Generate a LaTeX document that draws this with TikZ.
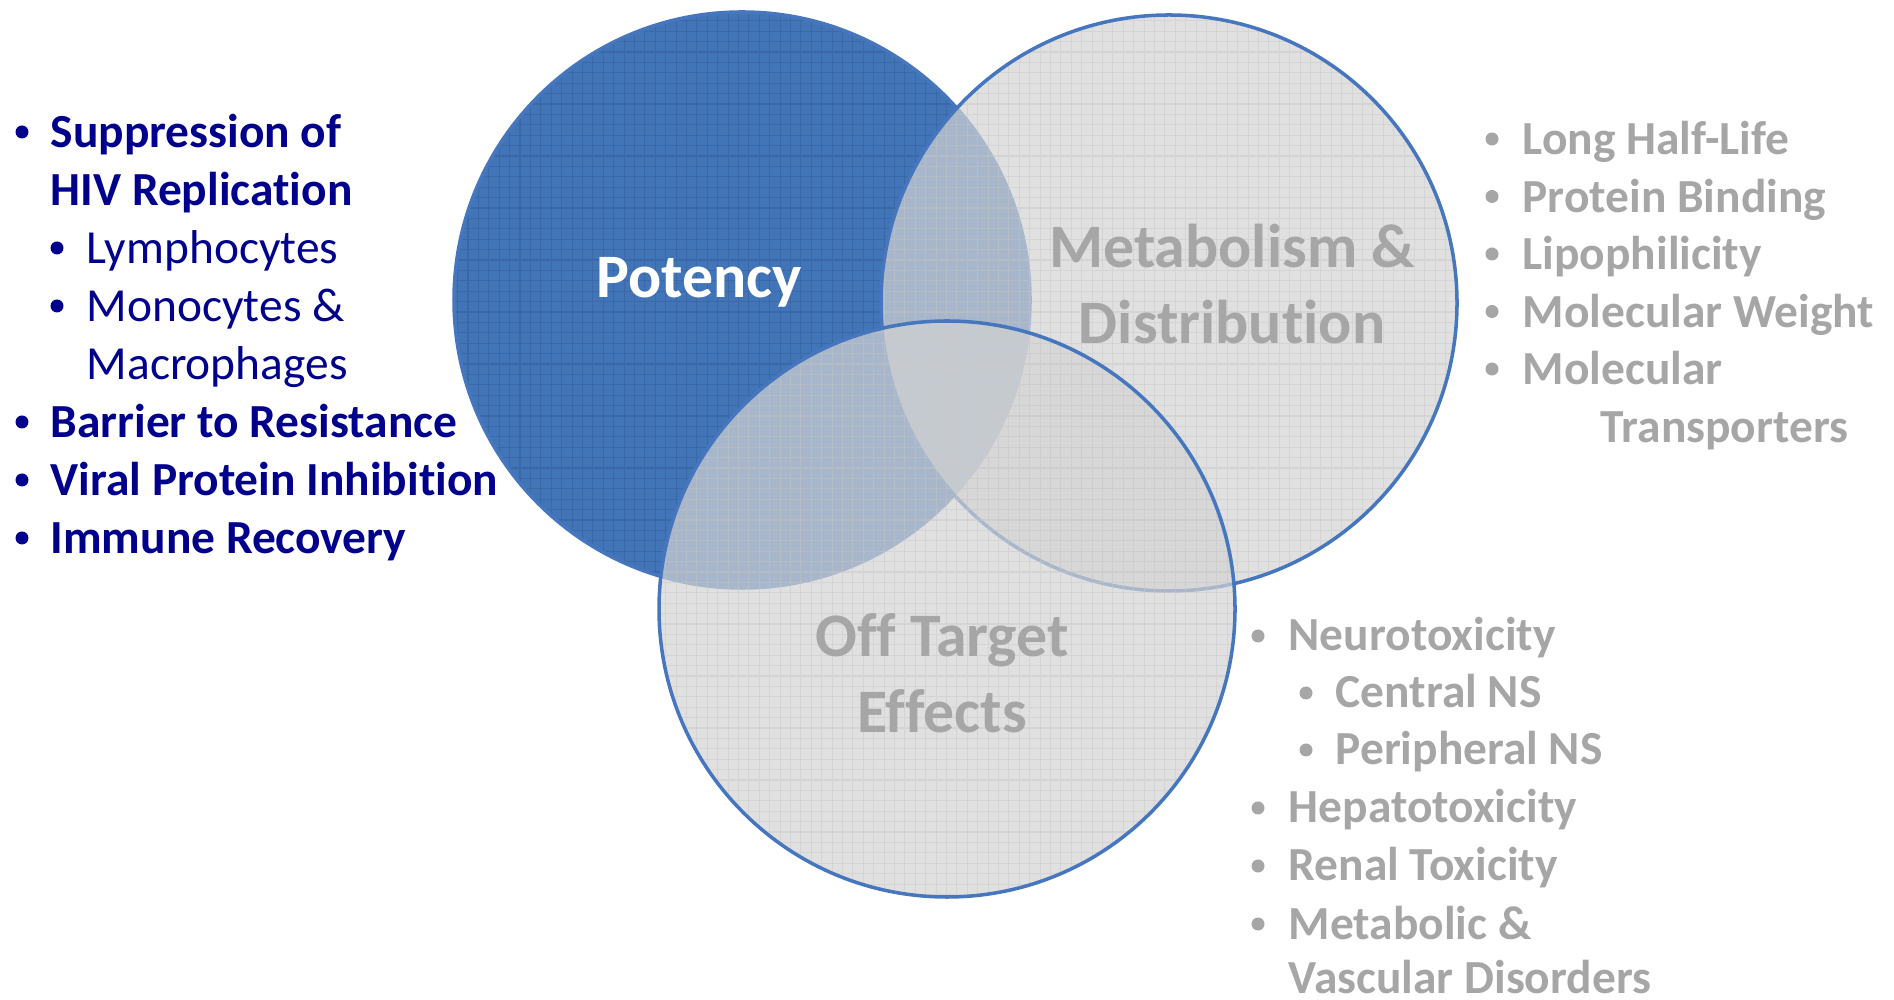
\documentclass[tikz,border=0pt]{standalone}
\usepackage{fontspec}
\setmainfont{Carlito}[Ligatures={NoCommon,NoRare,NoContextual}]
\usetikzlibrary{calc}

\definecolor{potblue}{RGB}{66,116,184}
\definecolor{ringblue}{RGB}{70,118,190}
\definecolor{navytext}{RGB}{0,0,140}
\definecolor{softgray}{RGB}{166,166,166}
\definecolor{ballgray}{RGB}{211,211,211}

\tikzset{
  ring/.style={draw=ringblue, line width=1pt},
  potmesh/.style={draw=potblue!90!black, line width=0.3pt},
  graymesh/.style={draw=black!22, line width=0.3pt, draw opacity=0.45},
  biglabel/.style={anchor=base, inner sep=0pt, font=\fontsize{17.6}{20}\selectfont\bfseries},
  item/.style={anchor=base west, inner sep=0pt, font=\fontsize{13.5}{16}\selectfont\bfseries},
  subitem/.style={anchor=base west, inner sep=0pt, font=\fontsize{13.5}{16}\selectfont}
}

\begin{document}
\begin{tikzpicture}
\useasboundingbox (0,0) rectangle (18.94,-10);

% Centres of the three sets
\coordinate (P) at (7.42,-3.00);
\coordinate (M) at (11.69,-3.03);
\coordinate (O) at (9.47,-6.09);

% Potency set, solid blue with a fine mesh
\fill[potblue] (P) circle (2.88);
\begin{scope}
  \clip (P) circle (2.88);
  \draw[potmesh, step=0.104] ($(P)+(-3,-3)$) grid ($(P)+(3,3)$);
\end{scope}
\draw[ring] (P) circle (2.88);

% Two see-through grey sets on top
\foreach \c in {M,O}
{
    \fill[ballgray, fill opacity=0.7] (\c) circle (2.88);
    \begin{scope}
      \clip (\c) circle (2.88);
      \draw[graymesh, step=0.104] ($(\c)+(-3,-3)$) grid ($(\c)+(3,3)$);
    \end{scope}
    \draw[ring] (\c) circle (2.88);
}

% Set titles
\node[biglabel, text=white] (potency) at (6.99,-2.98) {Potency};
\node[biglabel, text=softgray] (metab) at (12.32,-2.68) {Metabolism \&};
\node[biglabel, text=softgray] (distrib) at (12.32,-3.44) {Distribution};
\node[biglabel, text=softgray] (offtarget) at (9.42,-6.57) {Off Target};
\node[biglabel, text=softgray] (effects) at (9.42,-7.33) {Effects};

% Left list
\foreach \y in {1.32,4.22,4.80,5.38}
{
    \fill[navytext] (0.22,-\y) circle (0.065);
}
\foreach \y in {2.48,3.06}
{
    \fill[navytext] (0.57,-\y) circle (0.065);
}
\node[item, text=navytext] (sup1) at (0.50,-1.48) {Suppression of};
\node[item, text=navytext] (sup2) at (0.50,-2.06) {HIV Replication};
\node[subitem, text=navytext] (lymph) at (0.86,-2.64) {Lymphocytes};
\node[subitem, text=navytext] (mono1) at (0.86,-3.22) {Monocytes \&};
\node[subitem, text=navytext] (mono2) at (0.86,-3.80) {Macrophages};
\node[item, text=navytext] (barrier) at (0.50,-4.38) {Barrier to Resistance};
\node[item, text=navytext] (viral) at (0.50,-4.96) {Viral Protein Inhibition};
\node[item, text=navytext] (immune) at (0.50,-5.54) {Immune Recovery};

% Right list
\foreach \y in {1.39,1.965,2.54,3.115,3.69}
{
    \fill[softgray] (14.92,-\y) circle (0.065);
}
\node[item, text=softgray] (long) at (15.22,-1.55) {Long Half-Life};
\node[item, text=softgray] (protein) at (15.22,-2.125) {Protein Binding};
\node[item, text=softgray] (lipo) at (15.22,-2.70) {Lipophilicity};
\node[item, text=softgray] (molw) at (15.22,-3.275) {Molecular Weight};
\node[item, text=softgray] (mol) at (15.22,-3.85) {Molecular};
\node[item, text=softgray] (transp) at (16.00,-4.425) {Transporters};

% Lower list
\foreach \y in {6.36,8.08,8.66,9.24}
{
    \fill[softgray] (12.58,-\y) circle (0.065);
}
\foreach \y in {6.93,7.50}
{
    \fill[softgray] (13.06,-\y) circle (0.065);
}
\node[item, text=softgray] (neuro) at (12.88,-6.51) {Neurotoxicity};
\node[item, text=softgray] (central) at (13.35,-7.08) {Central NS};
\node[item, text=softgray] (periph) at (13.35,-7.65) {Peripheral NS};
\node[item, text=softgray] (hepato) at (12.88,-8.23) {Hepatotoxicity};
\node[item, text=softgray] (renal) at (12.88,-8.81) {Renal Toxicity};
\node[item, text=softgray] (metabolic) at (12.88,-9.39) {Metabolic \&};
\node[item, text=softgray] (vascular) at (12.88,-9.93) {Vascular Disorders};

\end{tikzpicture}
\end{document}
